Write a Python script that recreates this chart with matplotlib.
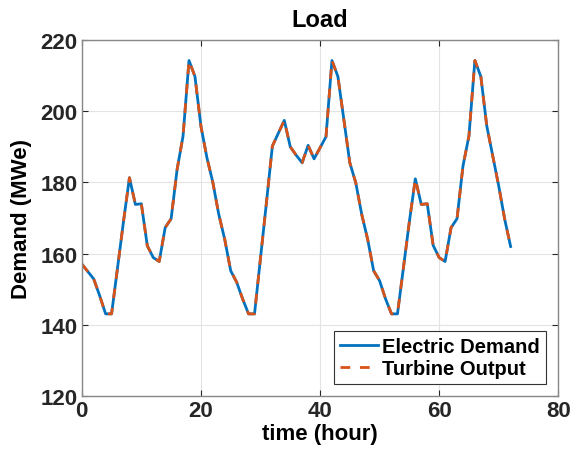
import matplotlib
matplotlib.use("Agg")
import matplotlib.pyplot as plt
import numpy as np

plt.rcParams["font.family"] = ["Liberation Sans", "DejaVu Sans"]
plt.rcParams["font.weight"] = "bold"

hours = list(range(73))
demand = [
    157.1, 155.0, 152.9, 148.2, 143.1, 143.1, 156.0, 169.0, 181.3, 173.8,
    174.0, 162.2, 158.9, 157.8, 167.3, 169.8, 183.6, 193.0, 214.2, 209.7,
    195.8, 187.0, 180.0, 171.0, 164.0,
    155.2, 152.0, 147.3, 143.1, 143.1, 158.7, 174.3, 190.2, 193.8, 197.4,
    190.0, 187.6, 185.5, 190.4, 186.6, 189.7, 192.8, 214.2, 209.7, 197.6,
    185.5, 179.9, 171.0, 164.0,
    155.2, 152.4, 147.3, 143.1, 143.1, 156.0, 169.0, 181.0, 173.8, 174.0,
    162.3, 158.9, 157.8, 167.3, 169.8, 184.6, 193.0, 214.2, 209.7, 195.8,
    187.4, 179.0, 169.7, 162.0,
]
turbine = list(demand)

fig = plt.figure(figsize=(5.72, 4.64), dpi=100)
ax = fig.add_axes([0.143, 0.144, 0.833, 0.768])

ax.plot(hours, demand, color="#0072BD", lw=2.0, label="Electric Demand")
ax.plot(hours, turbine, color="#D95319", lw=2.0, ls=(0, (3.5, 3.5)), label="Turbine Output")

ax.set_xlim(0, 80)
ax.set_ylim(120, 220)
ax.set_xticks(np.arange(0, 81, 20))
ax.set_yticks(np.arange(120, 221, 20))
ax.grid(True, color="#e3e3e3", lw=0.8)
ax.set_axisbelow(True)
ax.tick_params(direction="in", top=True, right=True, labelsize=16, colors="#262626",
               length=4, width=0.8, pad=3)
for lab in ax.get_xticklabels() + ax.get_yticklabels():
    lab.set_fontweight("bold")
for sp in ax.spines.values():
    sp.set_color("#888888")
    sp.set_linewidth(1.0)

ax.set_title("Load", fontsize=17, fontweight="bold", pad=10)
ax.set_xlabel("time (hour)", fontsize=16, fontweight="bold", labelpad=1)
ax.set_ylabel("Demand (MWe)", fontsize=16, fontweight="bold", labelpad=6)

leg = ax.legend(loc="lower right", fontsize=14.5, fancybox=False, framealpha=1,
                edgecolor="#333333", borderpad=0.3, labelspacing=0.15,
                handlelength=1.9, handletextpad=0.2, borderaxespad=0.6)
leg.get_frame().set_linewidth(0.8)
for t in leg.get_texts():
    t.set_fontweight("bold")

fig.savefig("out.png", dpi=100)
